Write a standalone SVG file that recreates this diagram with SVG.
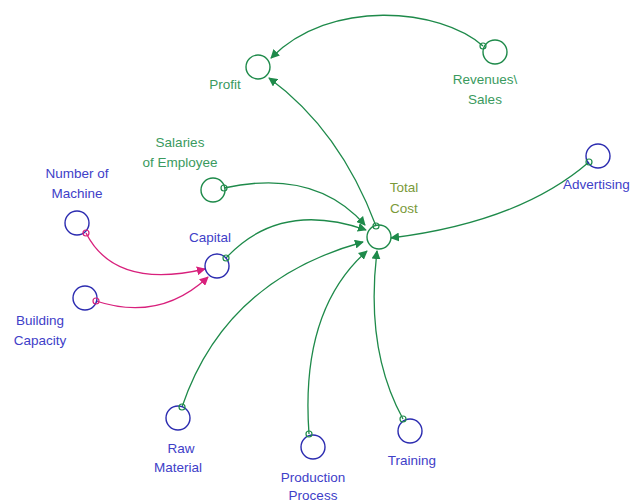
<svg xmlns="http://www.w3.org/2000/svg" width="631" height="502" viewBox="0 0 631 502">
<defs>
<marker id="ag" viewBox="0 0 10 10" refX="9" refY="5" markerWidth="9" markerHeight="9" markerUnits="userSpaceOnUse" orient="auto"><path d="M0,0 L10,5 L0,10 z" fill="#1e8a4a"/></marker>
<marker id="am" viewBox="0 0 10 10" refX="9" refY="5" markerWidth="9" markerHeight="9" markerUnits="userSpaceOnUse" orient="auto"><path d="M0,0 L10,5 L0,10 z" fill="#d8207c"/></marker>
</defs>
<style>
.nb{fill:none;stroke:#2c2cb0;stroke-width:1.4}
.ng{fill:none;stroke:#1e8a4a;stroke-width:1.4}
.lg{fill:none;stroke:#1e8a4a;stroke-width:1.3}
.lm{fill:none;stroke:#d8207c;stroke-width:1.3}
.og{fill:none;stroke:#1e8a4a;stroke-width:1.2}
.om{fill:none;stroke:#d8207c;stroke-width:1.2}
text{font-family:"Liberation Sans",Arial,sans-serif;font-size:13.5px;text-anchor:middle}
.tg{fill:#3a9a5e}
.tb{fill:#4040c8}
.tt{fill:#7a9a3a}
</style>
<rect width="631" height="502" fill="#ffffff"/>
<g id="connectors">
<path class="lg" d="M483,46 C440,8 330,-2 271,58" marker-end="url(#ag)"/>
<path class="lg" d="M376,226 Q340,130 269,78" marker-end="url(#ag)"/>
<path class="lg" d="M224,188 Q315,168 365,225" marker-end="url(#ag)"/>
<path class="lg" d="M226,258 Q280,200 366,230" marker-end="url(#ag)"/>
<path class="lm" d="M86,233 Q115,290 205,269" marker-end="url(#am)"/>
<path class="lm" d="M96,301 Q160,322 208,277" marker-end="url(#am)"/>
<path class="lg" d="M589,162 Q520,222 391,238" marker-end="url(#ag)"/>
<path class="lg" d="M182,407 Q225,280 363,242" marker-end="url(#ag)"/>
<path class="lg" d="M309,434 Q300,310 367,251" marker-end="url(#ag)"/>
<path class="lg" d="M403,419 Q365,350 377,251" marker-end="url(#ag)"/>
</g>
<g id="profit"><circle class="ng" cx="258" cy="67" r="12"/><text class="tg" x="225" y="89">Profit</text></g>
<g id="revenues"><circle class="ng" cx="495" cy="52" r="12"/><circle class="og" cx="483" cy="46" r="3"/><text class="tg" x="485" y="84">Revenues\</text><text class="tg" x="485" y="104">Sales</text></g>
<g id="salaries"><circle class="ng" cx="213" cy="190" r="12"/><circle class="og" cx="224" cy="188" r="3"/><text class="tg" x="180" y="147">Salaries</text><text class="tg" x="180" y="167">of Employee</text></g>
<g id="number-of-machine"><circle class="nb" cx="77" cy="223" r="12"/><circle class="om" cx="86" cy="233" r="3"/><text class="tb" x="77" y="178">Number of</text><text class="tb" x="77" y="198">Machine</text></g>
<g id="capital"><circle class="nb" cx="217" cy="266" r="12"/><circle class="og" cx="226" cy="258" r="3"/><text class="tb" x="210" y="242">Capital</text></g>
<g id="building-capacity"><circle class="nb" cx="85" cy="298" r="12"/><circle class="om" cx="96" cy="301" r="3"/><text class="tb" x="40" y="325">Building</text><text class="tb" x="40" y="345">Capacity</text></g>
<g id="total-cost"><circle class="ng" cx="379" cy="237" r="12"/><circle class="og" cx="376" cy="226" r="3"/><text class="tt" x="404" y="192">Total</text><text class="tt" x="404" y="213">Cost</text></g>
<g id="advertising"><circle class="nb" cx="598" cy="156" r="12"/><circle class="og" cx="589" cy="162" r="3"/><text class="tb" x="563" y="189" style="text-anchor:start">Advertising</text></g>
<g id="raw-material"><circle class="nb" cx="178" cy="418" r="12"/><circle class="og" cx="182" cy="407" r="3"/><text class="tb" x="181" y="453">Raw</text><text class="tb" x="178" y="472">Material</text></g>
<g id="production-process"><circle class="nb" cx="313" cy="447" r="12"/><circle class="og" cx="309" cy="434" r="3"/><text class="tb" x="313" y="482">Production</text><text class="tb" x="313" y="500">Process</text></g>
<g id="training"><circle class="nb" cx="410" cy="431" r="12"/><circle class="og" cx="403" cy="419" r="3"/><text class="tb" x="412" y="465">Training</text></g>
</svg>
